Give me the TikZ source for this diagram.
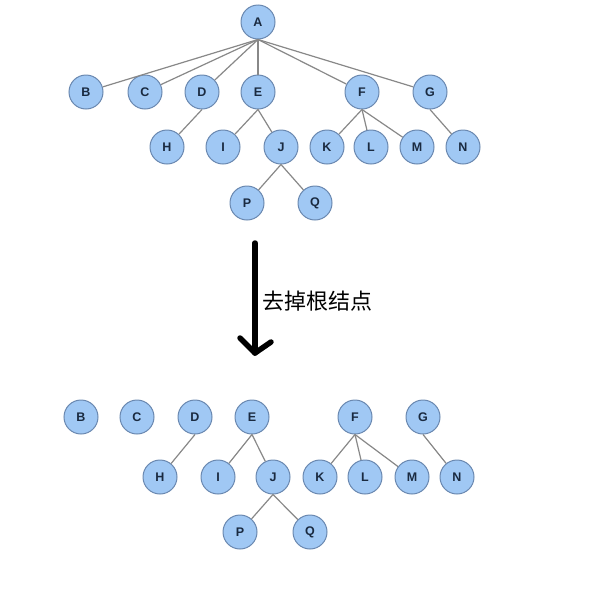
\documentclass[tikz,border=0pt]{standalone}
\usepackage{fontspec}
\setsansfont{Liberation Sans}
\newfontfamily\cjk{Noto Sans CJK SC}
\begin{document}
\begin{tikzpicture}[x=1pt,y=-1pt,
  tn/.style={circle,draw=nodeborder,fill=nodefill,line width=1pt,minimum size=34pt,inner sep=0pt,
    font=\sffamily\bfseries\fontsize{12.5}{12.5}\selectfont,text=nodetext},
  edge/.style={draw=edgegray,line width=1.2pt},
  bigarrow/.style={line width=5.5pt,line cap=round,line join=round,black}]
\definecolor{nodefill}{HTML}{A0C8F4}
\definecolor{nodeborder}{HTML}{6A88B0}
\definecolor{nodetext}{HTML}{1A2A40}
\definecolor{edgegray}{HTML}{888888}
\useasboundingbox (0,0) rectangle (601,592);
\fill[white] (0,0) rectangle (601,592);
% top tree
\node[tn] (A) at (258,22) {A};
\node[tn] (B) at (86,92) {B};
\node[tn] (C) at (145,92) {C};
\node[tn] (D) at (202,92) {D};
\node[tn] (E) at (258,92) {E};
\node[tn] (F) at (362,92) {F};
\node[tn] (G) at (430,92) {G};
\node[tn] (H) at (167,147) {H};
\node[tn] (I) at (223,147) {I};
\node[tn] (J) at (281,147) {J};
\node[tn] (K) at (327,147) {K};
\node[tn] (L) at (371,147) {L};
\node[tn] (M) at (417,147) {M};
\node[tn] (N) at (463,147) {N};
\node[tn] (P) at (247,203) {P};
\node[tn] (Q) at (315,203) {Q};
\foreach \c in {B,C,D,E,F,G} \draw[edge] (A.south) -- (\c);
\draw[edge] (D.south) -- (H);
\draw[edge] (E.south) -- (I);
\draw[edge] (E.south) -- (J);
\draw[edge] (F.south) -- (K);
\draw[edge] (F.south) -- (L);
\draw[edge] (F.south) -- (M);
\draw[edge] (G.south) -- (N);
\draw[edge] (J.south) -- (P);
\draw[edge] (J.south) -- (Q);
% bottom forest
\node[tn] (B2) at (81,417) {B};
\node[tn] (C2) at (137,417) {C};
\node[tn] (D2) at (195,417) {D};
\node[tn] (E2) at (252,417) {E};
\node[tn] (F2) at (355,417) {F};
\node[tn] (G2) at (423,417) {G};
\node[tn] (H2) at (160,477) {H};
\node[tn] (I2) at (218,477) {I};
\node[tn] (J2) at (273,477) {J};
\node[tn] (K2) at (320,477) {K};
\node[tn] (L2) at (365,477) {L};
\node[tn] (M2) at (412,477) {M};
\node[tn] (N2) at (457,477) {N};
\node[tn] (P2) at (240,532) {P};
\node[tn] (Q2) at (310,532) {Q};
\draw[edge] (D2.south) -- (H2);
\draw[edge] (E2.south) -- (I2);
\draw[edge] (E2.south) -- (J2);
\draw[edge] (F2.south) -- (K2);
\draw[edge] (F2.south) -- (L2);
\draw[edge] (F2.south) -- (M2);
\draw[edge] (G2.south) -- (N2);
\draw[edge] (J2.south) -- (P2);
\draw[edge] (J2.south) -- (Q2);
% arrow
\coordinate (arrtop) at (255,243);
\coordinate (arrtip) at (255,353);
\coordinate (wingl) at (240,338);
\coordinate (wingr) at (271,342);
\draw[bigarrow] (arrtop) -- (arrtip);
\draw[bigarrow] (wingl) -- (arrtip) -- (wingr);
\node[anchor=west,inner sep=0pt,font=\cjk\fontsize{22}{22}\selectfont] (lbl) at (262,301) {去掉根结点};
\end{tikzpicture}
\end{document}
